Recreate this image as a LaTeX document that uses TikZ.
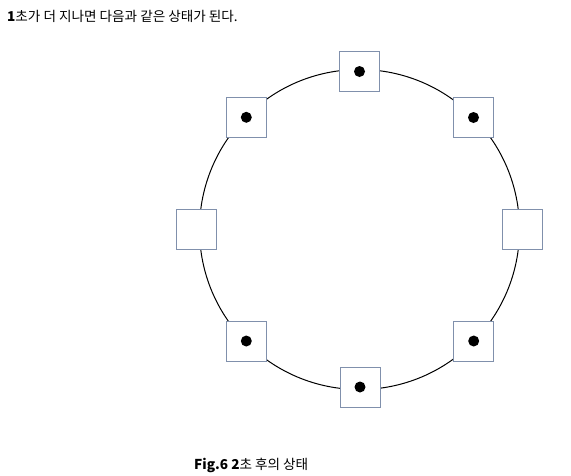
\documentclass[tikz,border=0pt]{standalone}
\usepackage{fontspec}
\setmainfont{Noto Sans CJK KR}
\definecolor{boxline}{HTML}{8090AC}
\begin{document}
\begin{tikzpicture}[x=1pt,y=-1pt,
  cell/.style={draw=boxline,fill=white,line width=0.8pt,minimum width=40pt,minimum height=40pt,inner sep=0pt},
  dot/.style={circle,fill=black,minimum size=11pt,inner sep=0pt},
  txt/.style={anchor=base west,inner sep=0pt,font=\fontsize{13.6}{16}\selectfont}]
\useasboundingbox (0,0) rectangle (571,475);
\node[txt] (title) at (7,21) {\textbf{1}초가 더 지나면 다음과 같은 상태가 된다.};
\node[txt] (cap) at (194,469) {\textbf{Fig.6 2}초 후의 상태};
\draw[line width=1pt] (359.5,229.5) circle[radius=160];
\node[cell] (n) at (359.5,71.5) {};
\node[cell] (ne) at (473.5,117.5) {};
\node[cell] (e) at (522.5,229.5) {};
\node[cell] (se) at (473.7,341) {};
\node[cell] (s) at (360,387) {};
\node[cell] (sw) at (246.3,341) {};
\node[cell] (w) at (196.3,229.5) {};
\node[cell] (nw) at (246.3,117.3) {};
\foreach \c in {n,ne,se,s,sw,nw} \node[dot] (d\c) at (\c) {};
\end{tikzpicture}
\end{document}
